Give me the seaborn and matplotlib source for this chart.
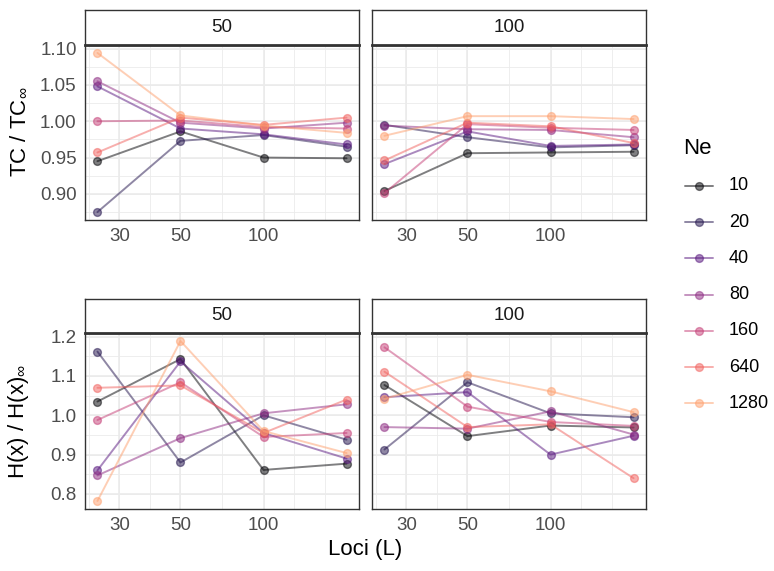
import numpy as np
import pandas as pd
import matplotlib
matplotlib.use("Agg")
import matplotlib.pyplot as plt
import seaborn as sns

# ---------------- data ----------------
loci = [25, 50, 100, 200]
ne_levels = [10, 20, 40, 80, 160, 640, 1280]
facet_labels = [50, 100]
x_breaks = [30, 50, 100]
tc_breaks = [0.90, 0.95, 1.00, 1.05, 1.10]
hx_breaks = [0.8, 0.9, 1.0, 1.1, 1.2]

tc_50 = {10: [0.945, 0.986, 0.950, 0.949],
         20: [0.875, 0.973, 0.981, 0.965],
         40: [1.048, 0.990, 0.982, 0.968],
         80: [1.055, 0.998, 0.990, 0.998],
         160: [1.000, 1.001, 0.992, 0.990],
         640: [0.957, 1.005, 0.995, 1.005],
         1280: [1.094, 1.008, 0.994, 0.984]}
tc_100 = {10: [0.904, 0.956, 0.957, 0.958],
          20: [0.995, 0.978, 0.964, 0.967],
          40: [0.941, 0.986, 0.966, 0.968],
          80: [0.994, 0.989, 0.988, 0.978],
          160: [0.901, 0.996, 0.991, 0.988],
          640: [0.946, 0.998, 0.993, 0.970],
          1280: [0.980, 1.007, 1.007, 1.003]}
hx_50 = {10: [1.035, 1.143, 0.861, 0.877],
         20: [1.162, 0.880, 1.000, 0.938],
         40: [0.860, 1.137, 0.955, 0.890],
         80: [0.847, 0.942, 1.005, 1.028],
         160: [0.988, 1.084, 0.945, 0.955],
         640: [1.070, 1.076, 0.955, 1.040],
         1280: [0.782, 1.189, 0.960, 0.904]}
hx_100 = {10: [1.077, 0.947, 0.974, 0.969],
          20: [0.913, 1.084, 1.005, 0.995],
          40: [1.046, 1.059, 0.900, 0.948],
          80: [0.970, 0.966, 1.010, 0.951],
          160: [1.173, 1.022, 0.983, 0.973],
          640: [1.111, 0.970, 0.977, 0.840],
          1280: [1.042, 1.103, 1.061, 1.008]}

rows = []
for metric, per_facet in (("tc", {50: tc_50, 100: tc_100}), ("hx", {50: hx_50, 100: hx_100})):
    for facet, d in per_facet.items():
        for ne in ne_levels:
            for l, v in zip(loci, d[ne]):
                rows.append(dict(metric=metric, facet=facet, Ne=str(ne), L=l, value=v))
df = pd.DataFrame(rows)

# ---------------- style ----------------
sns.set_style("white")
plt.rcParams["font.family"] = ["Liberation Sans", "DejaVu Sans"]
plt.rcParams["mathtext.fontset"] = "custom"
plt.rcParams["mathtext.rm"] = "Liberation Sans"
plt.rcParams["mathtext.it"] = "Liberation Sans:italic"
plt.rcParams["mathtext.bf"] = "Liberation Sans:bold"

cmap = plt.get_cmap("magma")
hue_order = [str(n) for n in ne_levels]
pal = {h: cmap(v) for h, v in zip(hue_order, np.linspace(0, 0.8, len(ne_levels)))}
ALPHA = 0.5
LW = 1.4
MS = 5.6
SMALL = 13.5

W, H = 774, 571
fig = plt.figure(figsize=(W / 100, H / 100), dpi=100)


def frac(x0, y0, x1, y1):
    return [x0 / W, 1 - y1 / H, (x1 - x0) / W, (y1 - y0) / H]


def minor_from(b):
    b = list(b)
    bd = b[1] - b[0]
    ext = [b[0] - bd] + b + [b[-1] + bd]
    mids = [(a + c) / 2 for a, c in zip(ext[:-1], ext[1:])]
    return sorted(set(mids + ext))


def expand(lo, hi, m=0.05):
    r = hi - lo
    return lo - m * r, hi + m * r


lx = np.log10(loci)
xlo, xhi = expand(lx.min(), lx.max())
xminor = [10 ** m for m in minor_from(np.log10(x_breaks))]

GRID = "#EBEBEB"
DARK = "#333333"

layout = {("tc", 50): (85, 45, 359, 220), ("tc", 100): (372, 45, 646, 220),
          ("hx", 50): (85, 333, 359, 509), ("hx", 100): (372, 333, 646, 509)}
strip_y = {"tc": (10, 45), "hx": (299, 333)}
breaks = {"tc": tc_breaks, "hx": hx_breaks}
fmt = {"tc": "{:.2f}", "hx": "{:.1f}"}

for (metric, facet), (x0, y0, x1, y1) in layout.items():
    ax = fig.add_axes(frac(x0, y0, x1, y1))
    sub = df[(df.metric == metric) & (df.facet == facet)]
    allv = df[df.metric == metric]["value"]
    ylo, yhi = expand(allv.min(), allv.max())
    # grid
    for m in minor_from(breaks[metric]):
        if ylo < m < yhi:
            ax.axhline(m, color=GRID, lw=0.6, zorder=0)
    for m in xminor:
        if 10 ** xlo < m < 10 ** xhi:
            ax.axvline(m, color=GRID, lw=0.6, zorder=0)
    for b in breaks[metric]:
        ax.axhline(b, color=GRID, lw=1.2, zorder=0)
    for b in x_breaks:
        ax.axvline(b, color=GRID, lw=1.2, zorder=0)

    sns.lineplot(data=sub, x="L", y="value", hue="Ne", hue_order=hue_order,
                 palette=pal, marker="o", markersize=MS, linewidth=LW,
                 alpha=ALPHA, legend=False, ax=ax, zorder=3)
    for ln in ax.lines:
        c = ln.get_color()
        if ln.get_marker() == "o":
            ln.set_markeredgecolor(c)
            ln.set_markerfacecolor(c)
            ln.set_markeredgewidth(1.0)

    ax.set_xscale("log")
    ax.set_xlim(10 ** xlo, 10 ** xhi)
    ax.set_ylim(ylo, yhi)
    ax.xaxis.set_major_locator(matplotlib.ticker.FixedLocator(x_breaks))
    ax.xaxis.set_minor_locator(matplotlib.ticker.NullLocator())
    ax.set_xticklabels([str(b) for b in x_breaks])
    ax.set_yticks(breaks[metric])
    if facet == facet_labels[0]:
        ax.set_yticklabels([fmt[metric].format(b) for b in breaks[metric]])
    else:
        ax.set_yticklabels([])
        ax.tick_params(axis="y", length=0)
    ax.set_xlabel("")
    ax.set_ylabel("")
    ax.tick_params(axis="both", which="major", length=3, width=0.9, color=DARK,
                   labelcolor="#4D4D4D", labelsize=SMALL, pad=3.0, direction="out")
    for s in ax.spines.values():
        s.set_color(DARK)
        s.set_linewidth(1.0)
        s.set_visible(True)
    ax.set_facecolor("white")

    sy0, sy1 = strip_y[metric]
    sax = fig.add_axes(frac(x0, sy0, x1, sy1))
    sax.set_xticks([])
    sax.set_yticks([])
    sax.set_facecolor("white")
    for s in sax.spines.values():
        s.set_color(DARK)
        s.set_linewidth(1.0)
    sax.spines["bottom"].set_linewidth(2.0)
    sax.text(0.5, 0.5, str(facet), ha="center", va="center", fontsize=SMALL,
             color="#1A1A1A", transform=sax.transAxes)

# axis titles
fig.text(19 / W, 1 - 132 / H, r"TC / TC$_{\infty}$", rotation=90, ha="center",
         va="center", fontsize=16, color="black")
fig.text(19 / W, 1 - 421 / H, r"H(x) / H(x)$_{\infty}$", rotation=90, ha="center",
         va="center", fontsize=16, color="black")
fig.text(365 / W, 1 - 549 / H, "Loci (L)", ha="center", va="center", fontsize=16,
         color="black")

# legend
lax = fig.add_axes([0, 0, 1, 1], facecolor="none")
lax.set_xlim(0, W)
lax.set_ylim(H, 0)
lax.axis("off")
lax.text(683, 148, "Ne", ha="left", va="center", fontsize=16, color="black")
y_first, step = 186, 36.2
for i, h in enumerate(hue_order):
    yy = y_first + i * step
    lax.plot([685, 713], [yy, yy], color=pal[h], alpha=ALPHA, lw=LW)
    lax.plot([699], [yy], marker="o", ms=MS, color=pal[h], mec=pal[h], mew=1.0,
             alpha=ALPHA, ls="none")
    lax.text(729, yy, h, ha="left", va="center", fontsize=13, color="black")

fig.savefig("out.png", dpi=100)
